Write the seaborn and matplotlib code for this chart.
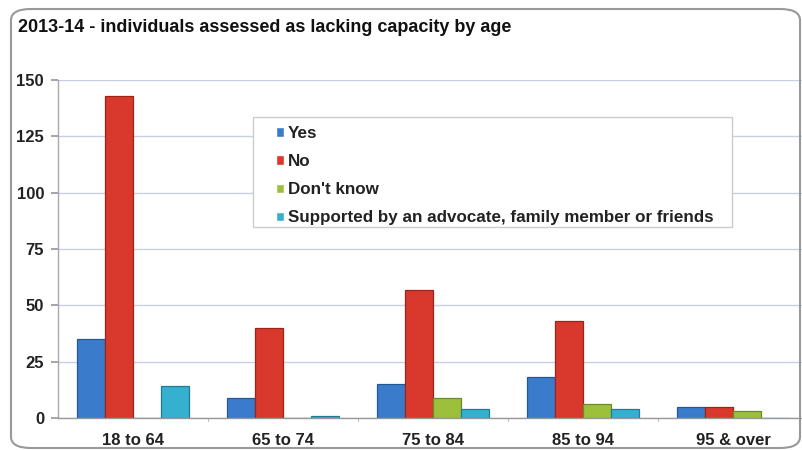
import matplotlib
matplotlib.use("Agg")
import matplotlib.pyplot as plt
from matplotlib.patches import FancyBboxPatch, Rectangle
import seaborn as sns
import pandas as pd

# Chart data
age_groups = ["18 to 64", "65 to 74", "75 to 84", "85 to 94", "95 & over"]
responses = ["Yes", "No", "Don't know",
             "Supported by an advocate, family member or friends"]
yes_vals = [35, 9, 15, 18, 5]
no_vals = [143, 40, 57, 43, 5]
dont_know_vals = [0, 0, 9, 6, 3]
supported_vals = [14, 1, 4, 4, 0]
y_ticks = [0, 25, 50, 75, 100, 125, 150]

colors = ["#3a7ccb", "#d9392c", "#9cc03c", "#36b0cf"]
edge_colors = ["#245895", "#9a231a", "#6b8b25", "#1f7c96"]

series = [yes_vals, no_vals, dont_know_vals, supported_vals]
rows = []
for resp, vals in zip(responses, series):
    for age, v in zip(age_groups, vals):
        rows.append({"age": age, "response": resp, "count": v})
df = pd.DataFrame(rows)

sns.set_theme(style="white")
plt.rcParams["font.family"] = ["Liberation Sans", "DejaVu Sans"]
plt.rcParams["font.weight"] = "bold"

W, H = 803, 450
fig = plt.figure(figsize=(W / 100, H / 100), dpi=100)
ax = fig.add_axes([58 / W, 1 - 418 / H, 750 / W, 338 / H])

sns.barplot(data=df, x="age", y="count", hue="response",
            hue_order=responses, order=age_groups,
            palette=colors, saturation=1, width=0.75, ax=ax, legend=True)

# darker outlines to give the bars some depth
for container, ec in zip(ax.containers, edge_colors):
    for bar in container:
        bar.set_edgecolor(ec)
        bar.set_linewidth(0.9)

ax.set_ylim(0, 150)
ax.set_xlim(-0.5, len(age_groups) - 0.5)
ax.set_yticks(y_ticks)
ax.set_yticklabels([str(t) for t in y_ticks], fontsize=12, fontweight="bold",
                   color="#222222")
ax.set_xticks(range(len(age_groups)))
ax.set_xticklabels(age_groups, fontsize=12, fontweight="bold",
                   color="#222222")
ax.set_xlabel("")
ax.set_ylabel("")
ax.tick_params(axis="x", length=0, pad=11)
ax.tick_params(axis="y", length=5, color="#999999", pad=5, left=True)

ax.yaxis.grid(True, color="#c9d0e6", linewidth=1)
ax.set_axisbelow(True)
for s in ["top", "right"]:
    ax.spines[s].set_visible(False)
ax.spines["left"].set_color("#aaaaaa")
ax.spines["bottom"].set_color("#999999")
ax.spines["left"].set_linewidth(1)
ax.spines["bottom"].set_linewidth(1)

# small separator ticks between the age groups
for xs in [0.5, 1.5, 2.5, 3.5]:
    ax.plot([xs, xs], [0, -1.5], color="#bbbbbb", lw=0.8, clip_on=False)

# legend without its own frame; the white box is drawn behind it
handles, labels = ax.get_legend_handles_labels()
ax.legend(handles, labels, loc="upper left",
          bbox_to_anchor=(276 / W, 1 - 126 / H),
          bbox_transform=fig.transFigure,
          frameon=False,
          prop={"weight": "bold", "size": 12.25},
          handlelength=0.45, handleheight=0.45, handletextpad=0.25,
          labelspacing=0.77, borderpad=0, borderaxespad=0)
leg = ax.get_legend()
for t in leg.get_texts():
    t.set_color("#222222")
leg.set_zorder(6)
ax.add_patch(Rectangle((253 / W, 1 - 227 / H), 479 / W, 110 / H,
                       transform=fig.transFigure, facecolor="white",
                       edgecolor="#cccccc", linewidth=1, zorder=5,
                       clip_on=False))

# rounded outer frame
frame = FancyBboxPatch((11 / W, 2 / H), 789 / W, 439 / H,
                       boxstyle="round,pad=0,rounding_size=0.025",
                       transform=fig.transFigure, facecolor="none",
                       edgecolor="#999999", linewidth=1.5, zorder=10)
fig.patches.append(frame)

fig.text(18 / W, 1 - 27 / H,
         "2013-14 - individuals assessed as lacking capacity by age",
         fontsize=13, fontweight="bold", color="#111111",
         ha="left", va="center")

fig.savefig("out.png", dpi=100)
